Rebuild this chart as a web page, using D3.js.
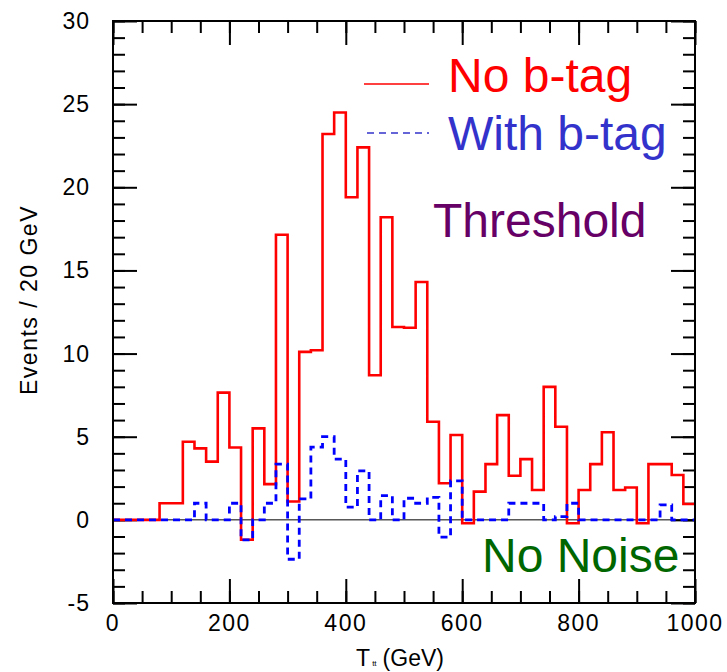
<!DOCTYPE html>
<html>
<head>
<meta charset="utf-8">
<script src="https://cdn.jsdelivr.net/npm/d3@7"></script>
<style>
  body { margin: 0; background: #fff; }
  text { font-family: "Liberation Sans", Arial, Helvetica, sans-serif; }
</style>
</head>
<body>
<script>
// bin low edges, 20 GeV wide
var binLow = d3.range(0, 1000, 20);

var noBtag = [0, 0, 0, 0, 1.0, 1.0, 4.7, 4.3, 3.5, 7.65,
  4.35, -1.2, 5.5, 2.15, 17.15, 1.1, 10.1, 10.2, 23.2, 24.5,
  19.4, 22.4, 8.7, 18.2, 11.6, 11.55, 14.3, 5.9, 2.2, 5.1,
  -0.2, 1.7, 3.35, 6.3, 2.65, 3.65, 1.8, 8.0, 5.6, -0.2,
  1.8, 3.35, 5.27, 1.8, 1.95, -0.2, 3.35, 3.35, 2.7, 0.95];

var withBtag = [0, 0, 0, 0, 0, 0, 0, 1.0, 0, 0,
  1.0, -1.2, 0, 1.0, 3.35, -2.37, 1.26, 4.37, 5.0, 3.65,
  0.76, 2.95, 0, 1.46, 0, 1.3, 1.0, 1.35, -1.04, 2.35,
  0, 0, 0, 0, 1.0, 1.0, 1.0, 0, 0.2, 1.0,
  0, 0, 0, 0, 0, 0, 0, 0.9, 0, 0];

var xTickLabels = [0, 200, 400, 600, 800, 1000];
var yTickLabels = [-5, 0, 5, 10, 15, 20, 25, 30];

var W = 727, H = 672;
var margin = { left: 113, top: 21 };
var pw = 582, ph = 582;

var svg = d3.select('body').append('svg').attr('width', W).attr('height', H);

var x = d3.scaleLinear().domain([0, 1000]).range([margin.left, margin.left + pw]);
var y = d3.scaleLinear().domain([-5, 30]).range([margin.top + ph, margin.top]);

// ticks (inward, all four sides)
function ticks(axis, tx, ty) {
  var g = svg.append('g').attr('transform', 'translate(' + tx + ',' + ty + ')').call(axis);
  g.select('.domain').remove();
  g.selectAll('text').remove();
  g.selectAll('line').attr('stroke', '#000').attr('stroke-width', 2);
}
var xMinor = d3.range(0, 1001, 50), xMajor = d3.range(0, 1001, 200);
var yMinor = d3.range(-5, 31, 1), yMajor = d3.range(-5, 31, 5);
ticks(d3.axisBottom(x).tickValues(xMinor).tickSize(-12), 0, y(-5));
ticks(d3.axisBottom(x).tickValues(xMajor).tickSize(-24), 0, y(-5));
ticks(d3.axisTop(x).tickValues(xMinor).tickSize(-12), 0, y(30));
ticks(d3.axisTop(x).tickValues(xMajor).tickSize(-24), 0, y(30));
ticks(d3.axisLeft(y).tickValues(yMinor).tickSize(-12), x(0), 0);
ticks(d3.axisLeft(y).tickValues(yMajor).tickSize(-24), x(0), 0);
ticks(d3.axisRight(y).tickValues(yMinor).tickSize(-12), x(1000), 0);
ticks(d3.axisRight(y).tickValues(yMajor).tickSize(-24), x(1000), 0);

// tick labels
svg.append('g').selectAll('text').data(xTickLabels).enter().append('text')
  .attr('x', function (d) { return x(d); })
  .attr('y', 631)
  .attr('text-anchor', 'middle')
  .attr('font-size', 23)
  .attr('letter-spacing', 1.5)
  .text(function (d) { return d; });

svg.append('g').selectAll('text').data(yTickLabels).enter().append('text')
  .attr('x', 90)
  .attr('y', function (d) { return y(d) + 8; })
  .attr('text-anchor', 'end')
  .attr('font-size', 23)
  .attr('letter-spacing', 1)
  .text(function (d) { return d; });

// axis titles
var xt = svg.append('text').attr('x', 400).attr('y', 666).attr('text-anchor', 'middle').attr('font-size', 23);
xt.append('tspan').text('T');
xt.append('tspan').attr('font-size', 8).attr('dx', 2).text('tt');
xt.append('tspan').attr('dx', 6).text('(GeV)');

svg.append('text')
  .attr('transform', 'translate(37,300) rotate(-90)')
  .attr('text-anchor', 'middle')
  .attr('font-size', 23)
  .attr('letter-spacing', 1.5)
  .text('Events / 20 GeV');

// zero line
svg.append('line')
  .attr('x1', x(0)).attr('x2', x(1000))
  .attr('y1', y(0)).attr('y2', y(0))
  .attr('stroke', '#000').attr('stroke-width', 1);

// histograms
var step = d3.line()
  .x(function (d) { return x(d[0]); })
  .y(function (d) { return y(d[1]); })
  .curve(d3.curveStepAfter);

function histPoints(vals) {
  var pts = binLow.map(function (b, i) { return [b, vals[i]]; });
  pts.push([1000, vals[vals.length - 1]]);
  return pts;
}

svg.append('path')
  .attr('d', step(histPoints(noBtag)))
  .attr('fill', 'none')
  .attr('stroke', '#ff0000')
  .attr('stroke-width', 2.6);

svg.append('path')
  .attr('d', step(histPoints(withBtag)))
  .attr('fill', 'none')
  .attr('stroke', '#0000ff')
  .attr('stroke-width', 2.8)
  .attr('stroke-dasharray', '7,5');

// frame
svg.append('rect')
  .attr('x', x(0)).attr('y', y(30))
  .attr('width', x(1000) - x(0)).attr('height', y(-5) - y(30))
  .attr('fill', 'none').attr('stroke', '#000').attr('stroke-width', 2);

// legend & labels
svg.append('line').attr('x1', 364).attr('x2', 429).attr('y1', 84).attr('y2', 84)
  .attr('stroke', '#ff0000').attr('stroke-width', 1.5);
svg.append('line').attr('x1', 367).attr('x2', 429).attr('y1', 133).attr('y2', 133)
  .attr('stroke', '#3333cc').attr('stroke-width', 1.5).attr('stroke-dasharray', '7,5');

svg.append('text').attr('x', 448).attr('y', 92).attr('font-size', 48)
  .attr('fill', '#ff0000').text('No b-tag');
svg.append('text').attr('x', 448).attr('y', 150).attr('font-size', 48)
  .attr('fill', '#3333cc').text('With b-tag');
svg.append('text').attr('x', 433).attr('y', 237).attr('font-size', 48)
  .attr('fill', '#660066').text('Threshold');
svg.append('text').attr('x', 482).attr('y', 572).attr('font-size', 48)
  .attr('fill', '#006600').text('No Noise');
</script>
</body>
</html>
